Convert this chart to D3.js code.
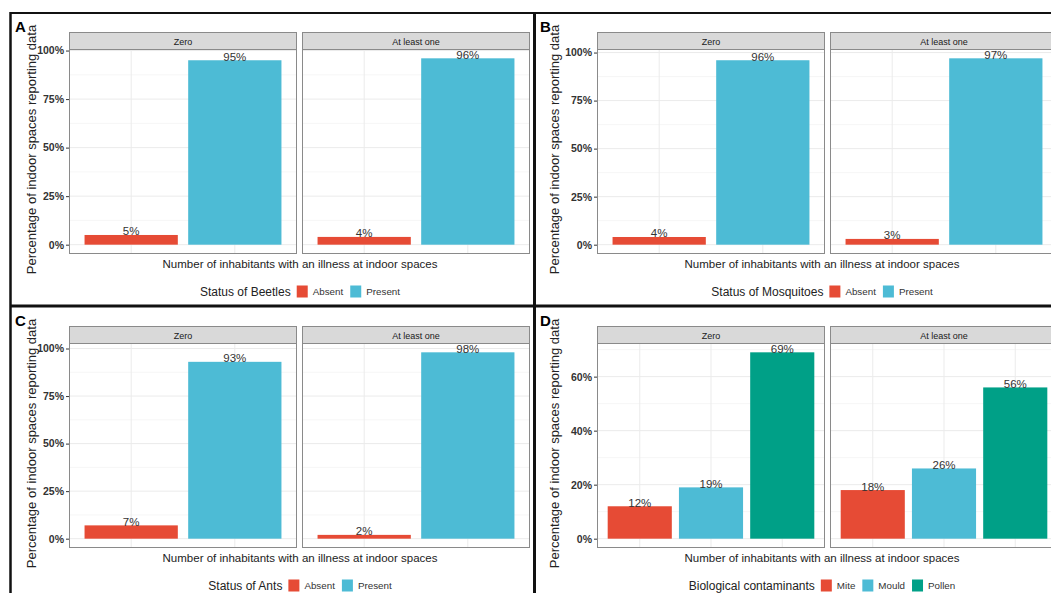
<!DOCTYPE html>
<html>
<head>
<meta charset="utf-8">
<script src="https://cdn.jsdelivr.net/npm/d3@7"></script>
<style>
  body { margin: 0; background: #fff; }
  svg { display: block; font-family: "Liberation Sans", Arial, sans-serif; }
</style>
</head>
<body>
<svg id="fig" width="1051" height="593"></svg>
<script>
// Facets and categories
const facetNames = ["Zero", "At least one"];
const insectStatus = ["Absent", "Present"];
const contaminantTypes = ["Mite", "Mould", "Pollen"];

// Percentage of indoor spaces reporting data, per facet
const beetlesZero = [5, 95];
const beetlesAtLeastOne = [4, 96];
const mosquitoesZero = [4, 96];
const mosquitoesAtLeastOne = [3, 97];
const antsZero = [7, 93];
const antsAtLeastOne = [2, 98];
const contaminantsZero = [12, 19, 69];
const contaminantsAtLeastOne = [18, 26, 56];

// Y axis tick values (percent)
const quarterTicks = [0, 25, 50, 75, 100];
const twentyTicks = [0, 20, 40, 60];

const palette = {
  Absent: "#E64B35", Present: "#4DBBD5",
  Mite: "#E64B35", Mould: "#4DBBD5", Pollen: "#00A087"
};

const panels = [
  { tag: "A", col: 0, row: 0, legend: "Status of Beetles", cats: insectStatus,
    values: [beetlesZero, beetlesAtLeastOne], ticks: quarterTicks },
  { tag: "B", col: 1, row: 0, legend: "Status of Mosquitoes", cats: insectStatus,
    values: [mosquitoesZero, mosquitoesAtLeastOne], ticks: quarterTicks },
  { tag: "C", col: 0, row: 1, legend: "Status of Ants", cats: insectStatus,
    values: [antsZero, antsAtLeastOne], ticks: quarterTicks },
  { tag: "D", col: 1, row: 1, legend: "Biological contaminants", cats: contaminantTypes,
    values: [contaminantsZero, contaminantsAtLeastOne], ticks: twentyTicks }
];

// Layout
const colLeft = [69, 597];      // left edge of the first facet in each column
const facetW = 228, facetGap = 5;
const rowTop = [32, 326];       // top of the strips in each row
const stripH = 17, panelH = 205;
const yTitleX = [31, 554];
const tagX = [15, 540];
const colCenter = [300, 822];

const svg = d3.select("#fig");
const fontTxt = "#333333";

panels.forEach(p => {
  const g = svg.append("g");
  const top = rowTop[p.row];
  const pTop = top + stripH, pBot = pTop + panelH;
  const maxV = d3.max(p.values.flat());
  const y = d3.scaleLinear().domain([-0.05 * maxV, 1.05 * maxV]).range([pBot, pTop]);
  const step = p.ticks[1] - p.ticks[0];
  const minor = [];
  for (let v = p.ticks[0] - step / 2; v <= y.domain()[1]; v += step) {
    if (v >= y.domain()[0]) minor.push(v);
  }

  facetNames.forEach((fname, fi) => {
    const fx = colLeft[p.col] + fi * (facetW + facetGap);
    const x = d3.scaleBand().domain(p.cats).range([fx, fx + facetW])
      .paddingInner(0.1).paddingOuter(0.15);
    const fg = g.append("g");

    fg.append("rect").attr("x", fx).attr("y", pTop).attr("width", facetW).attr("height", panelH)
      .attr("fill", "#fff");
    // gridlines
    fg.selectAll(".minor").data(minor).join("line")
      .attr("x1", fx).attr("x2", fx + facetW).attr("y1", d => y(d)).attr("y2", d => y(d))
      .attr("stroke", "#f4f4f4").attr("stroke-width", 0.8);
    fg.selectAll(".major").data(p.ticks).join("line")
      .attr("x1", fx).attr("x2", fx + facetW).attr("y1", d => y(d)).attr("y2", d => y(d))
      .attr("stroke", "#ebebeb").attr("stroke-width", 1);
    fg.selectAll(".vgrid").data(p.cats).join("line")
      .attr("x1", d => x(d) + x.bandwidth() / 2).attr("x2", d => x(d) + x.bandwidth() / 2)
      .attr("y1", pTop).attr("y2", pBot)
      .attr("stroke", "#ebebeb").attr("stroke-width", 1);

    const rows = p.cats.map((c, i) => ({ cat: c, v: p.values[fi][i] }));
    fg.selectAll(".bar").data(rows).join("rect")
      .attr("x", d => x(d.cat)).attr("width", x.bandwidth())
      .attr("y", d => y(d.v)).attr("height", d => y(0) - y(d.v))
      .attr("fill", d => palette[d.cat]);
    fg.selectAll(".val").data(rows).join("text")
      .attr("x", d => x(d.cat) + x.bandwidth() / 2).attr("y", d => y(d.v) + 0.5)
      .attr("text-anchor", "middle").attr("font-size", 11.5).attr("fill", fontTxt)
      .text(d => d.v + "%");

    fg.append("rect").attr("x", fx + 0.5).attr("y", pTop + 0.5)
      .attr("width", facetW - 1).attr("height", panelH - 1)
      .attr("fill", "none").attr("stroke", "#8a8a8a").attr("stroke-width", 1);

    // strip
    fg.append("rect").attr("x", fx + 0.5).attr("y", top + 0.5)
      .attr("width", facetW - 1).attr("height", stripH)
      .attr("fill", "#d9d9d9").attr("stroke", "#8a8a8a").attr("stroke-width", 1);
    fg.append("text").attr("x", fx + facetW / 2).attr("y", top + stripH / 2 + 1)
      .attr("dy", "0.35em").attr("text-anchor", "middle").attr("font-size", 9)
      .attr("fill", "#1a1a1a").text(fname);

    if (fi === 0) {
      const ax = fg.append("g").attr("transform", `translate(${fx},0)`)
        .call(d3.axisLeft(y).tickValues(p.ticks).tickSize(3).tickPadding(2)
          .tickFormat(d => d + "%"));
      ax.select(".domain").remove();
      ax.selectAll(".tick line").attr("stroke", "#333");
      ax.selectAll(".tick text").attr("font-size", 10.5).attr("font-weight", "bold")
        .attr("fill", fontTxt).attr("font-family", "Liberation Sans, Arial, sans-serif");
    }
  });

  // axis titles
  g.append("text")
    .attr("transform", `translate(${yTitleX[p.col]},${(pTop + pBot) / 2 - 2}) rotate(-90)`)
    .attr("dy", "0.35em").attr("text-anchor", "middle").attr("font-size", 13)
    .attr("fill", "#222").text("Percentage of indoor spaces reporting data");
  g.append("text").attr("x", colCenter[p.col]).attr("y", pBot + 14)
    .attr("text-anchor", "middle").attr("font-size", 11.5).attr("fill", "#222")
    .text("Number of inhabitants with an illness at indoor spaces");

  // legend
  const lg = g.append("g");
  const ly = pBot + 41.5;
  const title = lg.append("text").attr("x", 0).attr("y", ly).attr("font-size", 12)
    .attr("fill", "#222").text(p.legend);
  let cx = title.node().getComputedTextLength() + 6;
  p.cats.forEach((c, i) => {
    lg.append("rect").attr("x", cx).attr("y", ly - 10).attr("width", 11).attr("height", 12)
      .attr("fill", palette[c]);
    cx += 11 + 5;
    const t = lg.append("text").attr("x", cx).attr("y", ly - 0.5).attr("font-size", 9.8)
      .attr("fill", "#333").text(c);
    cx += t.node().getComputedTextLength();
    if (i < p.cats.length - 1) cx += 7;
  });
  lg.attr("transform", `translate(${colCenter[p.col] - cx / 2},0)`);

  // panel tag
  g.append("text").attr("x", tagX[p.col]).attr("y", rowTop[p.row])
    .attr("font-size", 15).attr("font-weight", "bold").attr("fill", "#000").text(p.tag);
});

// frame lines separating the four panels
const frame = [
  { x1: 10, y1: 13, x2: 1051, y2: 13, w: 2 },
  { x1: 10.5, y1: 12, x2: 10.5, y2: 593, w: 2.5 },
  { x1: 534.5, y1: 12, x2: 534.5, y2: 593, w: 3 },
  { x1: 10, y1: 306, x2: 1051, y2: 306, w: 3 }
];
svg.selectAll(".frame").data(frame).join("line")
  .attr("x1", d => d.x1).attr("y1", d => d.y1).attr("x2", d => d.x2).attr("y2", d => d.y2)
  .attr("stroke", "#111").attr("stroke-width", d => d.w);
</script>
</body>
</html>
